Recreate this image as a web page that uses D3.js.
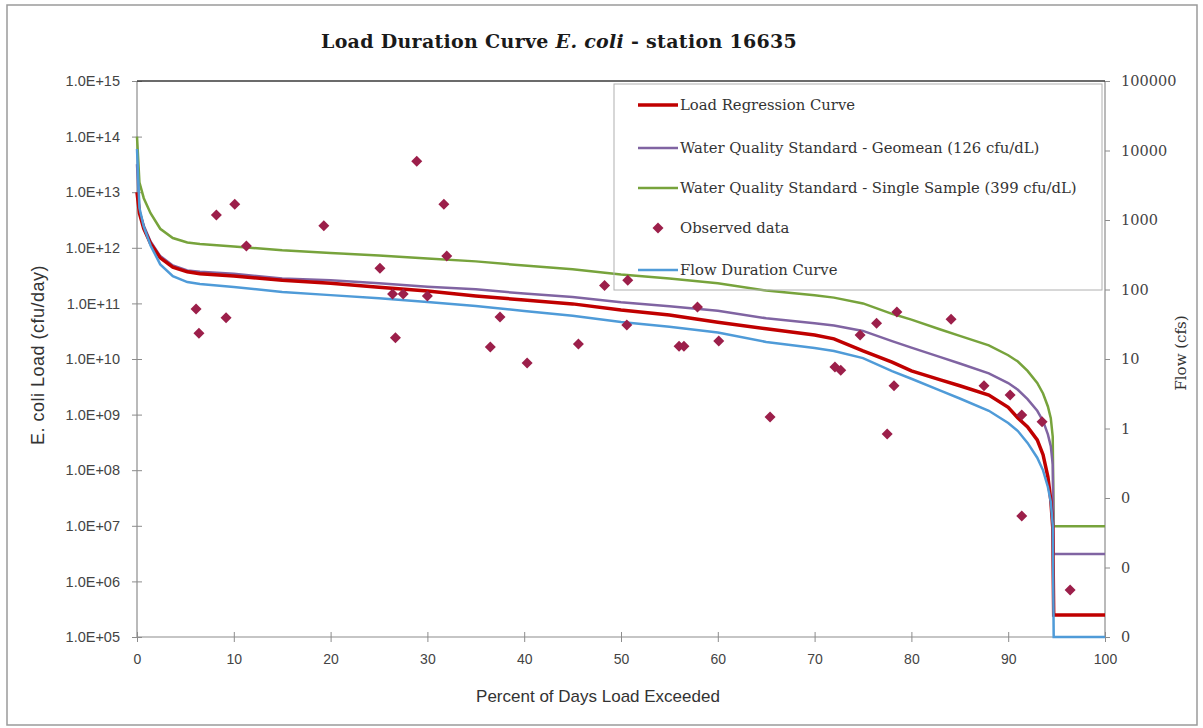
<!DOCTYPE html>
<html>
<head>
<meta charset="utf-8">
<script src="https://cdn.jsdelivr.net/npm/d3@7"></script>
<style>
  body { margin: 0; background: #fff; }
</style>
</head>
<body>
<svg id="chart" width="1203" height="728"></svg>
<script>
// percent of days exceeded, shared by all curves
var pctDays = [0, 0.25, 0.7, 1.4, 2.4, 3.7, 5.2, 6.5, 10, 15, 20, 25, 30, 35, 40, 45, 50, 55, 60, 65,
  70, 72, 75, 78, 80, 83, 85, 88, 90, 91, 92, 93, 93.6, 94.1, 94.4, 94.6, 94.7, 94.8, 100];

// flow duration curve (cfs, right axis)
var flowCfs = [10500, 1500, 800, 430, 230, 156, 128, 120, 109, 92, 83, 75, 66, 58, 49, 42, 34, 29, 24, 17.6,
  14.4, 13, 10.3, 6.7, 5.2, 3.5, 2.7, 1.8, 1.2, 0.92, 0.62, 0.38, 0.25, 0.144, 0.088, 0.041, 0.001, 0.001, 0.001];

// loads, cfu/day (left axis)
var regressionLoad = [1.0e13, 4.2e12, 2.2e12, 1.2e12, 6.6e11, 4.5e11, 3.7e11, 3.4e11, 3.1e11, 2.6e11, 2.3e11, 1.95e11,
  1.67e11, 1.36e11, 1.15e11, 9.8e10, 7.6e10, 6.2e10, 4.6e10, 3.5e10, 2.7e10, 2.3e10, 1.4e10, 8.8e9, 6.1e9, 4.2e9,
  3.3e9, 2.25e9, 1.35e9, 8.7e8, 6.0e8, 3.5e8, 1.9e8, 7.6e7, 2.9e7, 9.5e6, 2.5e5, 2.5e5, 2.5e5];

var geomeanLoad = [3.2e13, 4.6e12, 2.5e12, 1.3e12, 7.1e11, 4.8e11, 3.9e11, 3.7e11, 3.4e11, 2.8e11, 2.6e11, 2.3e11,
  2.0e11, 1.8e11, 1.5e11, 1.3e11, 1.05e11, 8.9e10, 7.4e10, 5.4e10, 4.4e10, 4.0e10, 3.2e10, 2.1e10, 1.6e10, 1.08e10,
  8.3e9, 5.5e9, 3.7e9, 2.8e9, 1.9e9, 1.17e9, 7.7e8, 4.4e8, 2.7e8, 1.26e8, 3.1e6, 3.1e6, 3.1e6];

var singleSampleLoad = [1.0e14, 1.5e13, 7.8e12, 4.2e12, 2.2e12, 1.5e12, 1.25e12, 1.17e12, 1.06e12, 9.0e11, 8.1e11, 7.3e11,
  6.4e11, 5.7e11, 4.8e11, 4.1e11, 3.3e11, 2.8e11, 2.3e11, 1.7e11, 1.4e11, 1.27e11, 1.0e11, 6.5e10, 5.1e10, 3.4e10,
  2.6e10, 1.76e10, 1.17e10, 9.0e9, 6.1e9, 3.7e9, 2.4e9, 1.4e9, 8.6e8, 4.0e8, 9.8e6, 9.8e6, 9.8e6];

// observed samples
var obsPct = [6.1, 6.4, 8.2, 9.2, 10.1, 11.3, 19.3, 25.1, 26.4, 27.5, 26.7, 28.9, 30.0, 31.7, 32.0, 37.5, 36.5, 40.3,
  45.6, 48.3, 50.7, 50.6, 56.0, 56.5, 57.9, 60.1, 65.4, 72.1, 72.7, 74.7, 76.4, 78.5, 78.2, 77.5, 84.1, 87.5, 90.2,
  91.4, 93.5, 91.4, 96.4];
var obsLoad = [7.9e10, 2.9e10, 3.9e12, 5.5e10, 6.1e12, 1.08e12, 2.5e12, 4.3e11, 1.48e11, 1.48e11, 2.4e10, 3.6e13,
  1.36e11, 6.1e12, 7.1e11, 5.7e10, 1.64e10, 8.5e9, 1.86e10, 2.1e11, 2.6e11, 4.1e10, 1.7e10, 1.7e10, 8.6e10, 2.1e10,
  9.1e8, 7.2e9, 6.3e9, 2.7e10, 4.4e10, 7.0e10, 3.3e9, 4.5e8, 5.2e10, 3.3e9, 2.25e9, 9.8e8, 7.4e8, 1.5e7, 7.0e5];

var loadTicks = [1e5, 1e6, 1e7, 1e8, 1e9, 1e10, 1e11, 1e12, 1e13, 1e14, 1e15];
var flowTicks = [0.001, 0.01, 0.1, 1, 10, 100, 1000, 10000, 100000];
var pctTicks = [0, 10, 20, 30, 40, 50, 60, 70, 80, 90, 100];

var seriesNames = ["Load Regression Curve", "Water Quality Standard - Geomean (126 cfu/dL)",
  "Water Quality Standard - Single Sample (399 cfu/dL)", "Observed data", "Flow Duration Curve"];

var colRed = "#C00000", colPurple = "#8064A2", colGreen = "#77A33C", colBlue = "#4F9BD8", colObs = "#9C1F4A";

var svg = d3.select("#chart");
var plotL = 137, plotR = 1105, plotT = 81, plotB = 637;

var x = d3.scaleLinear().domain([0, 100]).range([plotL, plotR]);
var yLoad = d3.scaleLog().domain([1e5, 1e15]).range([plotB, plotT]);
var yFlow = d3.scaleLog().domain([0.001, 100000]).range([plotB, plotT]);

// outer chart border
svg.append("rect").attr("x", 7).attr("y", 5).attr("width", 1190).attr("height", 720)
  .attr("fill", "#fff").attr("stroke", "#9a9a9a").attr("stroke-width", 1.5);

// title
var title = svg.append("text").attr("x", 559).attr("y", 48).attr("text-anchor", "middle")
  .attr("font-family", "DejaVu Serif").attr("font-weight", "bold").attr("font-size", 19)
  .attr("letter-spacing", 0.3).attr("fill", "#1a1a1a");
title.append("tspan").text("Load Duration Curve ");
title.append("tspan").attr("font-style", "italic").text("E. coli");
title.append("tspan").text(" - station 16635");

function expFmt(v) {
  var e = Math.round(Math.log10(v));
  return "1.0E+" + (e < 10 ? "0" + e : e);
}

// left axis
var gL = svg.append("g").attr("transform", "translate(" + plotL + ",0)")
  .call(d3.axisLeft(yLoad).tickValues(loadTicks).tickFormat(expFmt).tickSize(5).tickPadding(12));
gL.selectAll(".tick line").attr("x2", -5).attr("x1", 5);

// right axis
var gR = svg.append("g").attr("transform", "translate(" + plotR + ",0)")
  .call(d3.axisRight(yFlow).tickValues(flowTicks).tickFormat(d3.format(".0f")).tickSize(5).tickPadding(11));

// bottom axis
var gB = svg.append("g").attr("transform", "translate(0," + plotB + ")")
  .call(d3.axisBottom(x).tickValues(pctTicks).tickSize(5).tickPadding(12));
gB.selectAll(".tick line").attr("y1", -5).attr("y2", 5);

[gL, gR, gB].forEach(function(g) {
  g.select(".domain").attr("stroke", "#8c8c8c").attr("stroke-width", 1.2);
  g.selectAll(".tick line").attr("stroke", "#8c8c8c");
  g.selectAll(".tick text").attr("fill", "#444");
});
gL.selectAll(".tick text").attr("font-family", "Liberation Sans").attr("font-size", 14.5);
gB.selectAll(".tick text").attr("font-family", "Liberation Sans").attr("font-size", 14);
gR.selectAll(".tick text").attr("font-family", "DejaVu Serif").attr("font-size", 14.5);
gR.select(".domain").attr("d", "M0," + plotB + "V" + plotT);
gL.select(".domain").attr("d", "M0," + plotB + "V" + plotT);
gB.select(".domain").attr("d", "M" + plotL + ",0H" + plotR);

// plot top border
svg.append("line").attr("x1", plotL).attr("x2", plotR).attr("y1", plotT).attr("y2", plotT)
  .attr("stroke", "#3a3a3a").attr("stroke-width", 1.5);

// axis titles
svg.append("text").attr("transform", "translate(44,355) rotate(-90)").attr("text-anchor", "middle")
  .attr("font-family", "Liberation Sans").attr("font-size", 18).attr("letter-spacing", 0.5).attr("fill", "#333")
  .text("E. coli Load (cfu/day)");
svg.append("text").attr("transform", "translate(1186,353) rotate(-90)").attr("text-anchor", "middle")
  .attr("font-family", "DejaVu Serif").attr("font-size", 15).attr("fill", "#333")
  .text("Flow (cfs)");
svg.append("text").attr("x", 598).attr("y", 702).attr("text-anchor", "middle")
  .attr("font-family", "Liberation Sans").attr("font-size", 17).attr("fill", "#333")
  .text("Percent of Days Load Exceeded");

// curves
var idx = d3.range(pctDays.length);
function loadLine(arr) {
  return d3.line().x(function(i) { return x(pctDays[i]); }).y(function(i) { return yLoad(arr[i]); })(idx);
}
svg.append("path").attr("d", loadLine(singleSampleLoad)).attr("fill", "none")
  .attr("stroke", colGreen).attr("stroke-width", 2.5);
svg.append("path").attr("d", loadLine(geomeanLoad)).attr("fill", "none")
  .attr("stroke", colPurple).attr("stroke-width", 2.5);
svg.append("path").attr("d", loadLine(regressionLoad)).attr("fill", "none")
  .attr("stroke", colRed).attr("stroke-width", 3.5);

var flowLine = d3.line().x(function(i) { return x(pctDays[i]); }).y(function(i) { return yFlow(flowCfs[i]); });
svg.append("path").attr("d", flowLine(idx)).attr("fill", "none")
  .attr("stroke", colBlue).attr("stroke-width", 2.5);

// observed data
var diamond = "M0,-5.5L5.5,0L0,5.5L-5.5,0Z";
svg.append("g").selectAll("path").data(obsPct).join("path")
  .attr("d", diamond)
  .attr("transform", function(d, i) { return "translate(" + x(d) + "," + yLoad(obsLoad[i]) + ")"; })
  .attr("fill", colObs);

// legend
var lg = svg.append("g");
lg.append("rect").attr("x", 614).attr("y", 84).attr("width", 488).attr("height", 206)
  .attr("fill", "none").attr("stroke", "#b0b0b0").attr("stroke-width", 1);
var legRows = [105, 148, 188, 228, 270];
var legCols = [colRed, colPurple, colGreen, null, colBlue];
var legW = [3.5, 2.5, 2.5, 0, 2.5];
seriesNames.forEach(function(name, i) {
  if (legCols[i]) {
    lg.append("line").attr("x1", 638).attr("x2", 678).attr("y1", legRows[i]).attr("y2", legRows[i])
      .attr("stroke", legCols[i]).attr("stroke-width", legW[i]);
  } else {
    lg.append("path").attr("d", diamond).attr("transform", "translate(658," + legRows[i] + ")").attr("fill", colObs);
  }
  lg.append("text").attr("x", 680).attr("y", legRows[i] + 5)
    .attr("font-family", "DejaVu Serif").attr("font-size", 14.8).attr("fill", "#333").text(name);
});
</script>
</body>
</html>
